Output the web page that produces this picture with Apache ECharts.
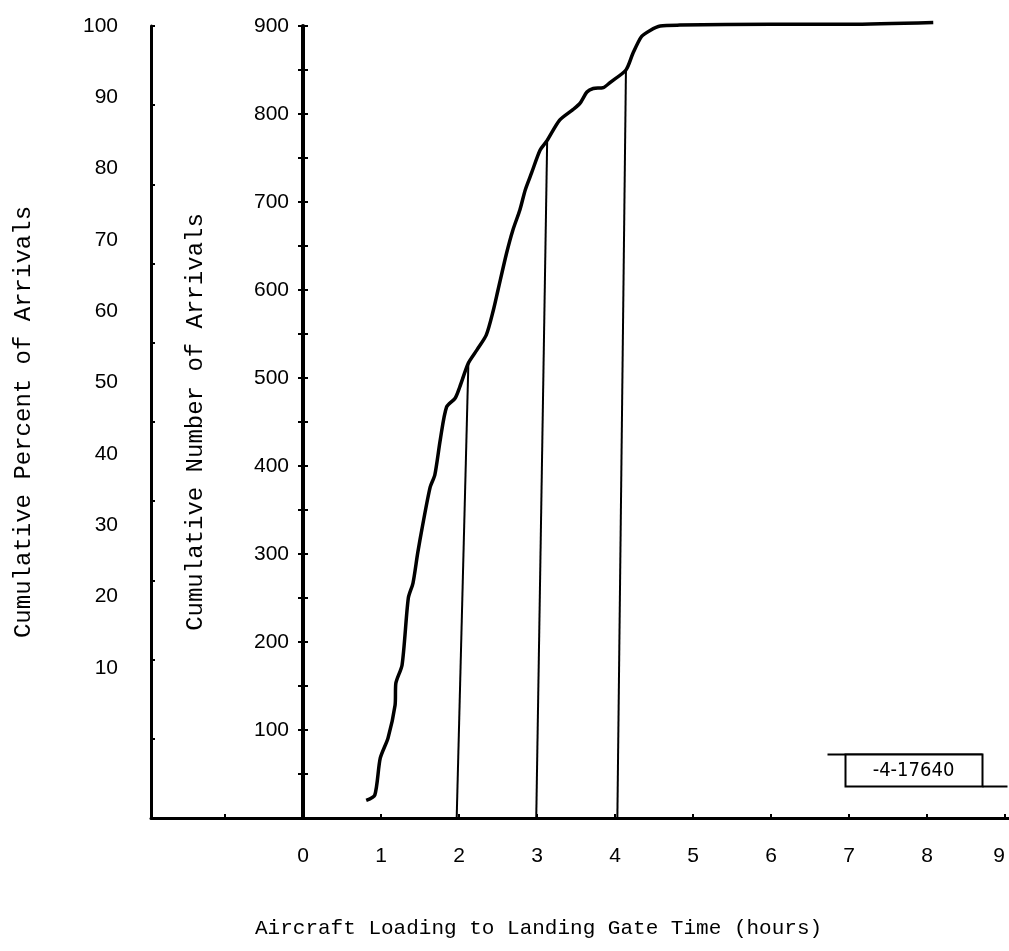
<!DOCTYPE html>
<html>
<head>
<meta charset="utf-8">
<script src="https://cdn.jsdelivr.net/npm/echarts@6/dist/echarts.min.js"></script>
<style>
  html, body { margin: 0; padding: 0; background: #fff; }
  #main { width: 1009px; height: 951px; }
</style>
</head>
<body>
<div id="main"></div>
<script>
// curve: hours vs cumulative number of arrivals
var hours = [0.81, 0.92, 0.99, 1.09, 1.18, 1.19, 1.27, 1.35, 1.41, 1.47, 1.53, 1.63, 1.69, 1.76, 1.84, 1.95, 2.01, 2.12,
  2.23, 2.35, 2.44, 2.5, 2.61, 2.69, 2.78, 2.85, 2.93, 3.04, 3.13, 3.29, 3.46, 3.55, 3.64, 3.72, 3.85, 3.94,
  4.14, 4.23, 4.34, 4.45, 4.58, 4.83, 6.0, 7.0, 8.08];
var arrivals = [20, 26, 68, 91, 128, 153, 174, 250, 267, 301, 331, 376, 390, 430, 467, 477, 490, 517,
  532, 549, 577, 600, 642, 668, 691, 714, 733, 759, 770, 793, 805, 812, 825, 829, 830, 836,
  850, 869, 888, 895, 900, 901, 902, 902, 904];

// the three drop lines (foot on the time axis, head on the curve)
var dropFootHours = [1.97, 2.99, 4.03];
var dropHeadHours = [2.12, 3.13, 4.14];
var dropHeadArrivals = [517, 770, 850];

var hourLabels = [0, 1, 2, 3, 4, 5, 6, 7, 8, 9];
var hourTicks = [-1, 0, 1, 2, 3, 4, 5, 6, 7, 8, 9];
var percentLabels = [10, 20, 30, 40, 50, 60, 70, 80, 90, 100];
var numberLabels = [100, 200, 300, 400, 500, 600, 700, 800, 900];

var mono = '"Liberation Mono", "DejaVu Sans Mono", monospace';
var digits = '"Liberation Sans", Arial, sans-serif';

var chart = echarts.init(document.getElementById('main'));

var series = [{
  type: 'line',
  xAxisIndex: 0,
  yAxisIndex: 1,
  data: hours.map(function (h, i) { return [h, arrivals[i]]; }),
  showSymbol: false,
  smooth: 0.25,
  clip: false,
  lineStyle: { color: '#000', width: 3.5 },
  z: 5
}];
for (var i = 0; i < dropFootHours.length; i++) {
  series.push({
    type: 'line',
    xAxisIndex: 0,
    yAxisIndex: 1,
    data: [[dropFootHours[i], 0], [dropHeadHours[i], dropHeadArrivals[i]]],
    showSymbol: false,
    clip: false,
    lineStyle: { color: '#000', width: 2 },
    z: 4
  });
}

chart.setOption({
  animation: false,
  backgroundColor: '#fff',
  title: {
    text: 'Aircraft Loading to Landing Gate Time (hours)',
    left: 255,
    top: 918,
    padding: 0,
    textStyle: { fontFamily: mono, fontSize: 21, fontWeight: 'normal', color: '#000' }
  },
  grid: { left: 151, right: 0, top: 26, bottom: 133, containLabel: false, outerBoundsMode: 'none' },
  xAxis: {
    type: 'value',
    min: -1.949,
    max: 9.051,
    axisLine: { onZero: false, lineStyle: { color: '#000', width: 3 } },
    axisTick: { customValues: hourTicks, inside: true, length: 4, lineStyle: { color: '#000', width: 2 } },
    axisLabel: { customValues: hourLabels, margin: 28, color: '#000', fontFamily: digits, fontSize: 21, alignMaxLabel: 'right' },
    splitLine: { show: false }
  },
  yAxis: [{
    // percent axis line + ticks
    type: 'value',
    min: 0, max: 100, interval: 10,
    position: 'left',
    name: 'Cumulative Percent of Arrivals',
    nameLocation: 'middle',
    nameRotate: 90,
    nameGap: 115,
    nameTextStyle: { fontFamily: mono, fontSize: 24, color: '#000' },
    axisLine: { show: true, onZero: false, lineStyle: { color: '#000', width: 3 } },
    axisTick: { show: true, inside: true, length: 4, lineStyle: { color: '#000', width: 2 } },
    axisLabel: { show: false },
    splitLine: { show: false }
  }, {
    // number axis, sitting at hour 0
    type: 'value',
    min: 0, max: 900, interval: 50,
    position: 'left',
    offset: -152,
    name: 'Cumulative Number of Arrivals',
    nameLocation: 'middle',
    nameRotate: 90,
    nameGap: 95,
    nameTextStyle: { fontFamily: mono, fontSize: 24, color: '#000' },
    axisLine: { show: true, onZero: false, lineStyle: { color: '#000', width: 4 } },
    axisTick: { show: true, length: 5, lineStyle: { color: '#000', width: 2 } },
    axisLabel: { customValues: numberLabels, margin: 14, color: '#000', fontFamily: digits, fontSize: 21 },
    splitLine: { show: false }
  }, {
    // percent labels as typed on the scan (their spacing differs from the ticks)
    type: 'value',
    min: -11.03, max: 100,
    position: 'left',
    axisLine: { show: false, onZero: false },
    axisTick: { show: false },
    axisLabel: { customValues: percentLabels, margin: 33, color: '#000', fontFamily: digits, fontSize: 21 },
    splitLine: { show: false }
  }, {
    // inner half of the number-axis cross ticks
    type: 'value',
    min: 0, max: 900, interval: 50,
    position: 'left',
    offset: -152,
    axisLine: { show: false, onZero: false },
    axisTick: { show: true, inside: true, length: 5, lineStyle: { color: '#000', width: 2 } },
    axisLabel: { show: false },
    splitLine: { show: false }
  }],
  graphic: [{
    type: 'group',
    left: 825,
    top: 752,
    children: [
      { type: 'line', shape: { x1: 0, y1: 2, x2: 155, y2: 2 }, style: { stroke: '#000', lineWidth: 2 } },
      { type: 'rect', shape: { x: 18, y: 2, width: 137, height: 32 }, style: { fill: '#fff', stroke: '#000', lineWidth: 2 } },
      { type: 'line', shape: { x1: 155, y1: 34, x2: 180, y2: 34 }, style: { stroke: '#000', lineWidth: 2 } },
      { type: 'text', style: { x: 86, y: 18, text: '-4-17640', fill: '#000', font: '20px "Liberation Sans Narrow", "DejaVu Sans Condensed", sans-serif', align: 'center', verticalAlign: 'middle' } }
    ]
  }],
  series: series
});
</script>
</body>
</html>
